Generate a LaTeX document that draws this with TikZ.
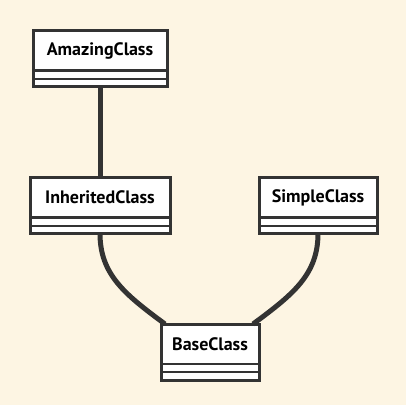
\documentclass[tikz,border=0pt]{standalone}
\usepackage{fontspec}
\setmainfont{PT Sans}
\usepackage{tikz}
\usetikzlibrary{positioning, calc}
\definecolor{creambg}{HTML}{FDF5E3}
\definecolor{umlgray}{HTML}{333333}

\begin{document}
\begin{tikzpicture}[x=1pt, y=1pt]
		\tikzstyle{classtitle}=[draw=umlgray, line width=3pt, outer sep=0pt, minimum height=40pt, fill=white, text=black, font=\bfseries\fontsize{18}{20}\selectfont]
		\tikzstyle{compart}=[draw=umlgray, line width=2pt, fill=white]
		\tikzstyle{edge}=[draw=umlgray, line width=5pt]
		
		\fill[creambg] (0,0) rectangle (406,-405);
		\useasboundingbox (0,0) rectangle (406,-405);
		
		\node [classtitle, minimum width=134pt] (amazing) at (100,-50.5) {AmazingClass};
		\node [classtitle, minimum width=140pt] (inherited) at (100,-197.5) {InheritedClass};
		\node [classtitle, minimum width=118pt] (simple) at (318,-197.5) {SimpleClass};
		\node [classtitle, minimum width=98pt] (base) at (210,-344) {BaseClass};
		
		%% two empty compartments under each title
		\foreach \n in {amazing, inherited, simple, base} {
			\draw [compart] (\n.south west) rectangle ([yshift=-8pt]\n.south east);
			\draw [compart] ([yshift=-8pt]\n.south west) rectangle ([yshift=-16pt]\n.south east);
			\draw [draw=umlgray, line width=3pt] (\n.south west) -- ([yshift=-16pt]\n.south west) -- ([yshift=-16pt]\n.south east) -- (\n.south east);
			\coordinate (\n-bot) at ([yshift=-16pt]\n.south);
		}
		
		\draw [edge] (amazing-bot) -- (inherited.north);
		\draw [edge] (inherited-bot) .. controls ($(inherited-bot)+(0,-41)$) and ($(inherited-bot)+(25,-61)$) .. ([xshift=4pt]base.north west);
		\draw [edge] (simple-bot) .. controls ($(simple-bot)+(0,-41)$) and ($(simple-bot)+(-25,-61)$) .. ([xshift=-6pt]base.north east);
		
\end{tikzpicture}
\end{document}
